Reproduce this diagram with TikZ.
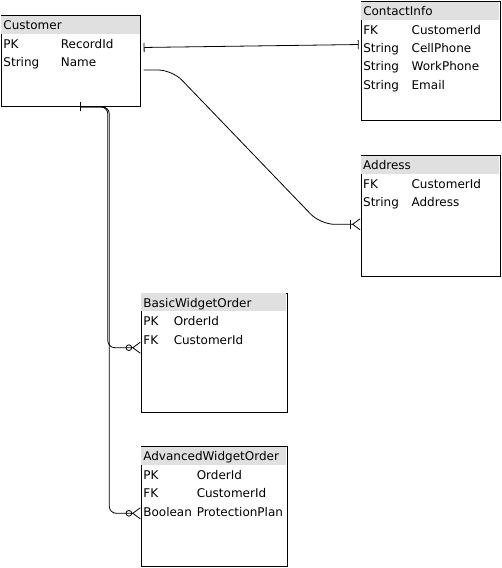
\documentclass[tikz,border=0pt]{standalone}
\usepackage{fontspec}
\setmainfont{DejaVu Sans}
\usetikzlibrary{arrows.meta,positioning}

\begin{document}
\begin{tikzpicture}
        [x=1pt, y=1pt,
        font=\fontsize{12}{14}\selectfont,
        entity/.style={draw, line width=.9pt, anchor=north west, inner sep=0pt},
        title/.style={fill=black!12, anchor=north west, align=left, text width=#1,
                inner xsep=2pt, inner ysep=0pt, text height=14pt, text depth=4pt},
        field/.style={anchor=north west, align=left, text width=#1,
                inner xsep=2pt, inner ysep=0pt, text height=14pt, text depth=4pt},
        attr/.style={inner xsep=2pt, inner ysep=0pt, text height=14pt, text depth=4pt},
        link/.style={line width=.8pt},
        one to one/.style={{Bar[width=9pt,sep=2.5pt]}-{Bar[width=9pt,sep=2pt]}},
        to one or many/.style={-{Bar[width=9pt,sep=1pt] Straight Barb[reversed,length=7.5pt,width=11pt]}},
        one to zero or many/.style={{Bar[width=9pt,sep=2.5pt]}-{Circle[open,length=6.5pt,sep=0pt] Straight Barb[reversed,length=7.5pt,width=11pt]}}]

        \useasboundingbox (0,0) rectangle (502,-568);

        % Customer
        \node[entity, minimum width=139.5pt, minimum height=90.5pt] (cust) at (0.8,-15) {};
        \node[title=134.6pt] (cust-h) at ([shift={(.45,-.45)}]cust.north west) {Customer};
        \node[field=53pt] (cust-t1) [below=0pt of cust-h.south west, anchor=north west] {PK};
        \node[field=53pt] (cust-t2) [below=0pt of cust-t1.south west, anchor=north west] {String};
        \node[attr] (cust-a1) [right=0pt of cust-t1] {RecordId};
        \node[attr] (cust-a2) [right=0pt of cust-t2] {Name};

        % ContactInfo
        \node[entity, minimum width=139pt, minimum height=119pt] (info) at (360.6,-1) {};
        \node[title=134.1pt] (info-h) at ([shift={(.45,-.45)}]info.north west) {ContactInfo};
        \node[field=44pt] (info-t1) [below=0pt of info-h.south west, anchor=north west] {FK};
        \node[field=44pt] (info-t2) [below=0pt of info-t1.south west, anchor=north west] {String};
        \node[field=44pt] (info-t3) [below=0pt of info-t2.south west, anchor=north west] {String};
        \node[field=44pt] (info-t4) [below=0pt of info-t3.south west, anchor=north west] {String};
        \node[attr] (info-a1) [right=0pt of info-t1] {CustomerId};
        \node[attr] (info-a2) [right=0pt of info-t2] {CellPhone};
        \node[attr] (info-a3) [right=0pt of info-t3] {WorkPhone};
        \node[attr] (info-a4) [right=0pt of info-t4] {Email};

        % Address
        \node[entity, minimum width=139pt, minimum height=120.4pt] (addr) at (360.5,-155.3) {};
        \node[title=134.1pt] (addr-h) at ([shift={(.45,-.45)}]addr.north west) {Address};
        \node[field=44pt] (addr-t1) [below=0pt of addr-h.south west, anchor=north west] {FK};
        \node[field=44pt] (addr-t2) [below=0pt of addr-t1.south west, anchor=north west] {String};
        \node[attr] (addr-a1) [right=0pt of addr-t1] {CustomerId};
        \node[attr] (addr-a2) [right=0pt of addr-t2] {Address};

        % BasicWidgetOrder
        \node[entity, minimum width=146pt, minimum height=119.3pt] (basic) at (140.7,-292.7) {};
        \node[title=141.1pt] (basic-h) at ([shift={(.45,-.45)}]basic.north west) {BasicWidgetOrder};
        \node[field=26pt] (basic-t1) [below=0pt of basic-h.south west, anchor=north west] {PK};
        \node[field=26pt] (basic-t2) [below=0pt of basic-t1.south west, anchor=north west] {FK};
        \node[attr] (basic-a1) [right=0pt of basic-t1] {OrderId};
        \node[attr] (basic-a2) [right=0pt of basic-t2] {CustomerId};

        % AdvancedWidgetOrder
        \node[entity, minimum width=146pt, minimum height=120pt] (adv) at (140.7,-446.3) {};
        \node[title=141.1pt] (adv-h) at ([shift={(.45,-.45)}]adv.north west) {AdvancedWidgetOrder};
        \node[field=49pt] (adv-t1) [below=0pt of adv-h.south west, anchor=north west] {PK};
        \node[field=49pt] (adv-t2) [below=0pt of adv-t1.south west, anchor=north west] {FK};
        \node[field=49pt] (adv-t3) [below=0pt of adv-t2.south west, anchor=north west] {Boolean};
        \node[attr] (adv-a1) [right=0pt of adv-t1] {OrderId};
        \node[attr] (adv-a2) [right=0pt of adv-t2] {CustomerId};
        \node[attr] (adv-a3) [right=0pt of adv-t3] {ProtectionPlan};

        % relations
        \draw[link, one to one] ([yshift=-32.5pt]cust.north east) -- ([yshift=-43.5pt]info.north west);
        \draw[link, to one or many, rounded corners=14pt, shorten <=2.5pt]
                ([yshift=-55pt]cust.north east) -- ++(31,0)
                -- ([xshift=-40pt,yshift=-69pt]addr.north west) -- ([yshift=-69pt]addr.north west);
        \draw[link, one to zero or many, rounded corners=7pt]
                ([xshift=77pt,yshift=-.5pt]cust.south west) -- ++(30,0) |- ([yshift=-55pt]basic.north west);
        \draw[link, one to zero or many, rounded corners=7pt]
                ([xshift=77pt,yshift=-.5pt]cust.south west) -- ++(31.5,0) |- ([yshift=-67pt]adv.north west);
\end{tikzpicture}
\end{document}
